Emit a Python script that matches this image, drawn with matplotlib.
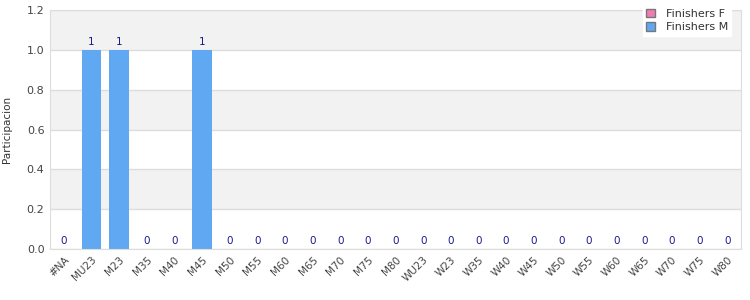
import matplotlib
matplotlib.use("Agg")
import matplotlib.pyplot as plt
from matplotlib.patches import Patch

categories = ["#NA", "MU23", "M23", "M35", "M40", "M45", "M50", "M55", "M60", "M65",
              "M70", "M75", "M80", "WU23", "W23", "W35", "W40", "W45", "W50", "W55",
              "W60", "W65", "W70", "W75", "W80"]
finishers_f = [0] * 25
finishers_m = [0, 1, 1, 0, 0, 1, 0, 0, 0, 0, 0, 0, 0, 0, 0, 0, 0, 0, 0, 0, 0, 0, 0, 0, 0]
y_ticks = [0.0, 0.2, 0.4, 0.6, 0.8, 1.0, 1.2]

fig = plt.figure(figsize=(7.5, 3), dpi=100)
ax = fig.add_axes([50/750, 1 - 249/300, 691/750, 239/300])

# alternating bands
for i in range(len(y_ticks) - 1):
    if i % 2 == 1:
        ax.axhspan(y_ticks[i], y_ticks[i + 1], color="#f2f2f2", zorder=0, lw=0)
for t in y_ticks:
    ax.axhline(t, color="#dddddd", lw=1, zorder=0.5)

x = list(range(len(categories)))
ax.bar(x, finishers_f, width=0.72, color="#f07cb4", zorder=2)
ax.bar(x, finishers_m, width=0.72, bottom=finishers_f, color="#60a8f2", zorder=2)
for xi, f, m in zip(x, finishers_f, finishers_m):
    tot = f + m
    ax.text(xi, tot + 0.015, f"{tot:g}", ha="center", va="bottom", fontsize=7.5,
            color="#1a1a8c", zorder=3)

ax.set_xlim(-0.5, len(categories) - 0.5)
ax.set_ylim(0, 1.2)
ax.set_yticks(y_ticks)
ax.set_yticklabels([f"{t:.1f}" for t in y_ticks], fontsize=8, color="#444444")
ax.set_xticks(x)
ax.set_xticklabels(categories, rotation=45, ha="right", rotation_mode="anchor",
                   fontsize=7.5, color="#444444")
ax.tick_params(axis="both", length=0, pad=4)
for s in ax.spines.values():
    s.set_color("#dddddd")
ax.set_ylabel("Participacion", fontsize=7.5, color="#333333")
ax.yaxis.set_label_coords(-38/691, 0.5)

handles = [Patch(facecolor="#f07cb4", edgecolor="#777777", label="Finishers F"),
           Patch(facecolor="#60a8f2", edgecolor="#777777", label="Finishers M")]
leg = fig.legend(handles=handles, loc="upper right", bbox_to_anchor=(737/750, 1.0),
                 fontsize=8, frameon=True, fancybox=False, handlelength=0.8,
                 handleheight=0.8, borderpad=0.3, labelspacing=0.3, handletextpad=1.0)
leg.get_frame().set_edgecolor("white")
leg.get_frame().set_facecolor("white")
leg.get_frame().set_alpha(1)
for t in leg.get_texts():
    t.set_color("#333333")

fig.savefig("out.png", dpi=100)
